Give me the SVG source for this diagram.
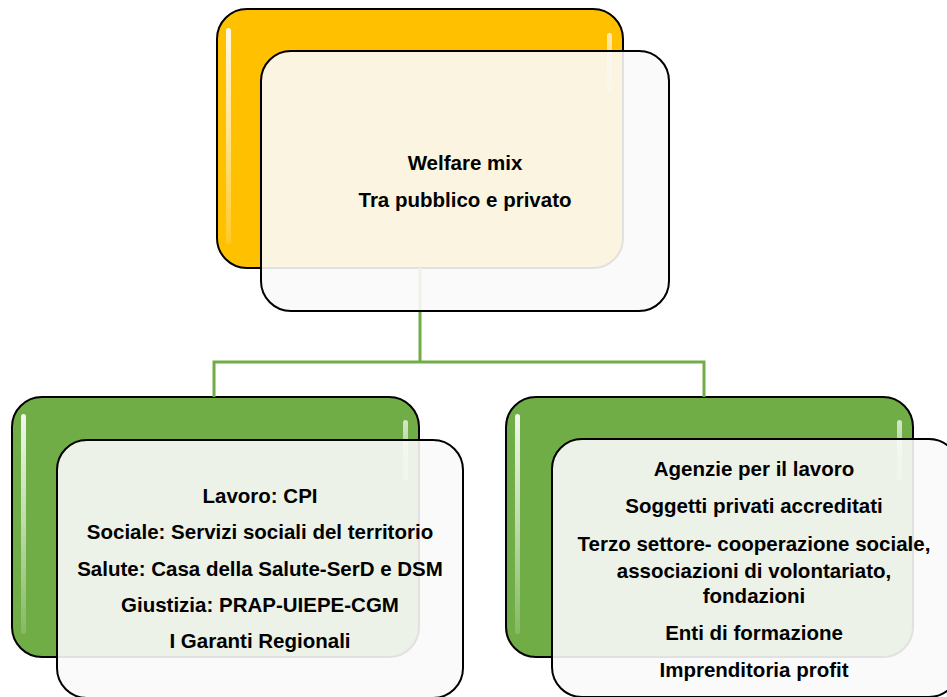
<svg xmlns="http://www.w3.org/2000/svg" width="947" height="697" viewBox="0 0 947 697">
  <defs>
    <linearGradient id="hl" x1="0" y1="0" x2="0" y2="1">
      <stop offset="0" stop-color="#ffffff" stop-opacity="0.9"/>
      <stop offset="0.5" stop-color="#ffffff" stop-opacity="0.55"/>
      <stop offset="1" stop-color="#ffffff" stop-opacity="0.15"/>
    </linearGradient>
    <linearGradient id="hlr" x1="0" y1="0" x2="0" y2="1">
      <stop offset="0" stop-color="#ffffff" stop-opacity="0.7"/>
      <stop offset="1" stop-color="#ffffff" stop-opacity="0.3"/>
    </linearGradient>
  </defs>
  <style>
    .back { stroke: #000; stroke-width: 2; }
    .orange { fill: #FFC000; }
    .green { fill: #70AD47; }
    .front { fill: #FAFAFA; fill-opacity: 0.9; stroke: #000; stroke-width: 2; }
    .hl { fill: url(#hl); }
    .hlr { fill: url(#hlr); }
    .conn { fill: none; stroke: #70AD47; stroke-width: 3; }
    text { font-family: "Liberation Sans", Arial, sans-serif; font-weight: bold; font-size: 20.5px; fill: #000; text-anchor: middle; }
  </style>

  <!-- back boxes -->
  <g id="top-back">
    <rect class="back orange" x="217" y="9" width="406" height="259" rx="30"/>
    <rect class="hl" x="226" y="28" width="5" height="216" rx="2.5"/>
    <rect class="hlr" x="607" y="33" width="5" height="60" rx="2.5"/>
  </g>
  <g id="left-back">
    <rect class="back green" x="12" y="397" width="407" height="260" rx="30"/>
    <rect class="hl" x="21" y="414" width="5" height="220" rx="2.5"/>
    <rect class="hlr" x="403" y="420" width="5" height="60" rx="2.5"/>
  </g>
  <g id="right-back">
    <rect class="back green" x="506" y="397" width="407" height="260" rx="30"/>
    <rect class="hl" x="515" y="414" width="5" height="220" rx="2.5"/>
    <rect class="hlr" x="897" y="420" width="5" height="60" rx="2.5"/>
  </g>

  <!-- connectors -->
  <g id="connectors">
    <path class="conn" d="M420 268 V362"/>
    <path class="conn" stroke-width="2.5" d="M214 397 V362 H704 V397"/>
  </g>

  <!-- front boxes -->
  <g id="top-node">
    <rect class="front" x="261" y="51" width="408" height="260" rx="30"/>
    <text x="465" y="170">Welfare mix</text>
    <text x="465" y="207">Tra pubblico e privato</text>
  </g>
  <g id="public-node">
    <rect class="front" x="57" y="440" width="406" height="258" rx="30"/>
    <text x="260" y="503">Lavoro: CPI</text>
    <text x="260" y="539">Sociale: Servizi sociali del territorio</text>
    <text x="260" y="576">Salute: Casa della Salute-SerD e DSM</text>
    <text x="260" y="612">Giustizia: PRAP-UIEPE-CGM</text>
    <text x="260" y="648">I Garanti Regionali</text>
  </g>
  <g id="private-node">
    <rect class="front" x="552" y="439" width="407" height="258" rx="30"/>
    <text x="754" y="476">Agenzie per il lavoro</text>
    <text x="754" y="513">Soggetti privati accreditati</text>
    <text x="754" y="551">Terzo settore- cooperazione sociale,</text>
    <text x="754" y="578">associazioni di volontariato,</text>
    <text x="754" y="603">fondazioni</text>
    <text x="754" y="640">Enti di formazione</text>
    <text x="754" y="677">Imprenditoria profit</text>
  </g>
</svg>
